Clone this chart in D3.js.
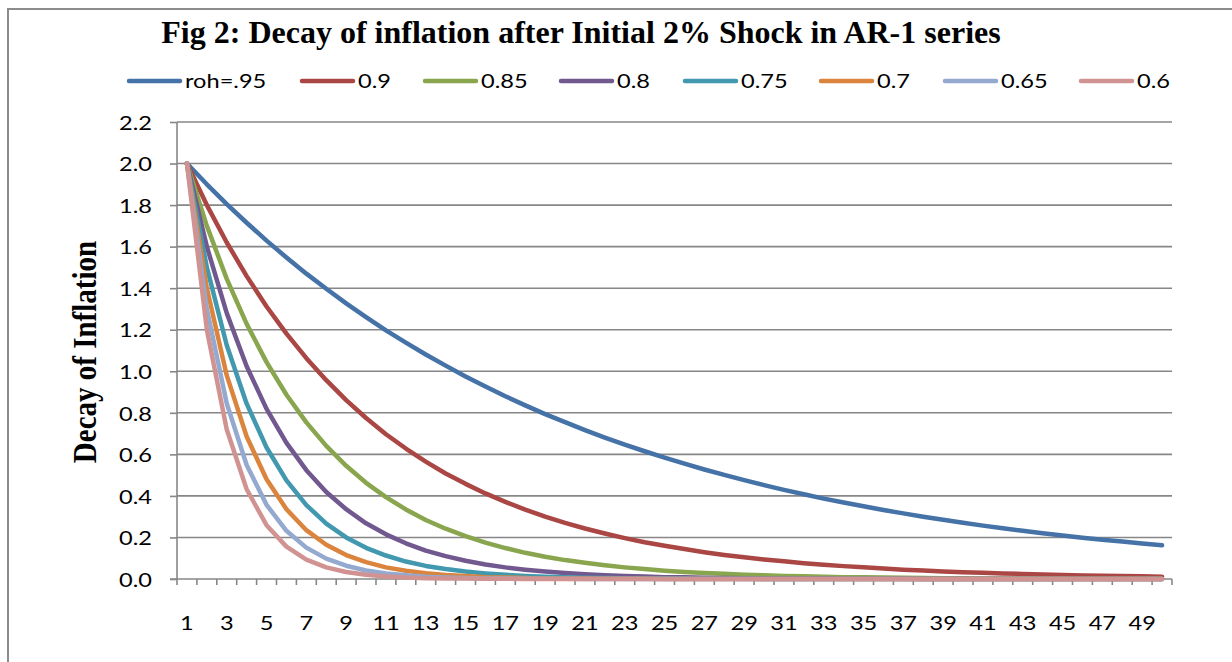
<!DOCTYPE html>
<html>
<head>
<meta charset="utf-8">
<script src="https://cdn.jsdelivr.net/npm/d3@7"></script>
<style>
  body { margin: 0; background: #fff; }
  svg { display: block; }
</style>
</head>
<body>
<svg width="1232" height="662"></svg>
<script>
// periods 1..50
var periods = d3.range(1, 51);

var seriesNames = ["roh=.95", "0.9", "0.85", "0.8", "0.75", "0.7", "0.65", "0.6"];
var seriesColors = ["#4572A7", "#AA4643", "#89A54E", "#71588F", "#4198AF", "#DB843D", "#93A9CF", "#D19392"];

var roh95 = [2.000, 1.900, 1.805, 1.715, 1.629, 1.548, 1.470, 1.397, 1.327, 1.261,
             1.197, 1.138, 1.081, 1.027, 0.975, 0.927, 0.880, 0.836, 0.794, 0.755,
             0.717, 0.681, 0.647, 0.615, 0.584, 0.555, 0.527, 0.501, 0.476, 0.452,
             0.429, 0.408, 0.387, 0.368, 0.350, 0.332, 0.316, 0.300, 0.285, 0.271,
             0.257, 0.244, 0.232, 0.220, 0.209, 0.199, 0.189, 0.180, 0.171, 0.162];
var roh90 = [2.000, 1.800, 1.620, 1.458, 1.312, 1.181, 1.063, 0.957, 0.861, 0.775,
             0.697, 0.628, 0.565, 0.508, 0.458, 0.412, 0.371, 0.334, 0.300, 0.270,
             0.243, 0.219, 0.197, 0.177, 0.160, 0.144, 0.129, 0.116, 0.105, 0.094,
             0.085, 0.076, 0.069, 0.062, 0.056, 0.050, 0.045, 0.041, 0.036, 0.033,
             0.030, 0.027, 0.024, 0.022, 0.019, 0.017, 0.016, 0.014, 0.013, 0.011];
var roh85 = [2.000, 1.700, 1.445, 1.228, 1.044, 0.887, 0.754, 0.641, 0.545, 0.463,
             0.394, 0.335, 0.284, 0.242, 0.206, 0.175, 0.149, 0.126, 0.107, 0.091,
             0.078, 0.066, 0.056, 0.048, 0.040, 0.034, 0.029, 0.025, 0.021, 0.018,
             0.015, 0.013, 0.011, 0.009, 0.008, 0.007, 0.006, 0.005, 0.004, 0.004,
             0.003, 0.003, 0.002, 0.002, 0.002, 0.001, 0.001, 0.001, 0.001, 0.001];
var roh80 = [2.000, 1.600, 1.280, 1.024, 0.819, 0.655, 0.524, 0.419, 0.336, 0.268,
             0.215, 0.172, 0.137, 0.110, 0.088, 0.070, 0.056, 0.045, 0.036, 0.029,
             0.023, 0.018, 0.015, 0.012, 0.009, 0.008, 0.006, 0.005, 0.004, 0.003,
             0.002, 0.002, 0.002, 0.001, 0.001, 0.001, 0.001, 0.000, 0.000, 0.000,
             0.000, 0.000, 0.000, 0.000, 0.000, 0.000, 0.000, 0.000, 0.000, 0.000];
var roh75 = [2.000, 1.500, 1.125, 0.844, 0.633, 0.475, 0.356, 0.267, 0.200, 0.150,
             0.113, 0.084, 0.063, 0.048, 0.036, 0.027, 0.020, 0.015, 0.011, 0.008,
             0.006, 0.005, 0.004, 0.003, 0.002, 0.002, 0.001, 0.001, 0.001, 0.000,
             0.000, 0.000, 0.000, 0.000, 0.000, 0.000, 0.000, 0.000, 0.000, 0.000,
             0.000, 0.000, 0.000, 0.000, 0.000, 0.000, 0.000, 0.000, 0.000, 0.000];
var roh70 = [2.000, 1.400, 0.980, 0.686, 0.480, 0.336, 0.235, 0.165, 0.115, 0.081,
             0.056, 0.040, 0.028, 0.019, 0.014, 0.009, 0.007, 0.005, 0.003, 0.002,
             0.002, 0.001, 0.001, 0.001, 0.000, 0.000, 0.000, 0.000, 0.000, 0.000,
             0.000, 0.000, 0.000, 0.000, 0.000, 0.000, 0.000, 0.000, 0.000, 0.000,
             0.000, 0.000, 0.000, 0.000, 0.000, 0.000, 0.000, 0.000, 0.000, 0.000];
var roh65 = [2.000, 1.300, 0.845, 0.549, 0.357, 0.232, 0.151, 0.098, 0.064, 0.041,
             0.027, 0.018, 0.011, 0.007, 0.005, 0.003, 0.002, 0.001, 0.001, 0.001,
             0.000, 0.000, 0.000, 0.000, 0.000, 0.000, 0.000, 0.000, 0.000, 0.000,
             0.000, 0.000, 0.000, 0.000, 0.000, 0.000, 0.000, 0.000, 0.000, 0.000,
             0.000, 0.000, 0.000, 0.000, 0.000, 0.000, 0.000, 0.000, 0.000, 0.000];
var roh60 = [2.000, 1.200, 0.720, 0.432, 0.259, 0.156, 0.093, 0.056, 0.034, 0.020,
             0.012, 0.007, 0.004, 0.003, 0.002, 0.001, 0.001, 0.000, 0.000, 0.000,
             0.000, 0.000, 0.000, 0.000, 0.000, 0.000, 0.000, 0.000, 0.000, 0.000,
             0.000, 0.000, 0.000, 0.000, 0.000, 0.000, 0.000, 0.000, 0.000, 0.000,
             0.000, 0.000, 0.000, 0.000, 0.000, 0.000, 0.000, 0.000, 0.000, 0.000];

var seriesValues = [roh95, roh90, roh85, roh80, roh75, roh70, roh65, roh60];
var yTicks = [0, 0.2, 0.4, 0.6, 0.8, 1.0, 1.2, 1.4, 1.6, 1.8, 2.0, 2.2];
var xTickLabels = periods.filter(function (d) { return d % 2 == 1; });

var svg = d3.select("svg");
var gridColor = "#878787";
var plot = { left: 177, right: 1172, top: 122, bottom: 579 };
var sansFont = "Lato, 'Open Sans', sans-serif";
var serifFont = "'Liberation Serif', 'Times New Roman', serif";
var stretch = 1.18; // the reference text is a bit wide

// outer chart frame
svg.append("rect").attr("x", 8).attr("y", 9).attr("width", 1240).attr("height", 680)
    .attr("fill", "none").attr("stroke", "#8c8c8c").attr("stroke-width", 2);

svg.append("text")
    .attr("x", 581).attr("y", 43)
    .attr("text-anchor", "middle")
    .style("font-family", serifFont)
    .style("font-weight", "bold").style("font-size", "32px")
    .text("Fig 2: Decay of inflation after Initial 2% Shock in AR-1 series");

var x = d3.scaleBand().domain(periods).range([plot.left, plot.right]);
var y = d3.scaleLinear().domain([0, 2.2]).range([plot.bottom, plot.top]);

// gridlines
svg.append("g").selectAll("line").data(yTicks.slice(1)).enter().append("line")
    .attr("x1", plot.left).attr("x2", plot.right)
    .attr("y1", function (d) { return y(d); }).attr("y2", function (d) { return y(d); })
    .attr("stroke", gridColor).attr("stroke-width", 1.6);

// y axis
var yAxis = d3.axisLeft(y).tickValues(yTicks).tickSize(7)
    .tickFormat(d3.format(".1f"));
var gy = svg.append("g").attr("transform", "translate(" + plot.left + ",0)").call(yAxis);
gy.select(".domain").attr("stroke", gridColor).attr("stroke-width", 1.6)
    .attr("d", "M0," + plot.top + "V" + (plot.bottom + 6));
gy.selectAll(".tick line").attr("stroke", gridColor).attr("stroke-width", 1.6);
gy.selectAll(".tick text").attr("fill", "#000")
    .attr("x", 0).attr("dy", "0.36em")
    .attr("transform", "translate(-25,0) scale(" + stretch + ",1)")
    .style("font-family", sansFont).style("font-size", "20px");

// x axis: ticks at category boundaries, labels every other period
var gx = svg.append("g").attr("transform", "translate(0," + plot.bottom + ")");
gx.append("line").attr("x1", plot.left - 7).attr("x2", plot.right)
    .attr("stroke", gridColor).attr("stroke-width", 1.6);
gx.selectAll(".xt").data(periods).enter().append("line").attr("class", "xt")
    .attr("x1", function (d) { return x(d) + x.bandwidth(); })
    .attr("x2", function (d) { return x(d) + x.bandwidth(); })
    .attr("y1", 0).attr("y2", 6)
    .attr("stroke", gridColor).attr("stroke-width", 1.6);
gx.selectAll(".xl").data(xTickLabels).enter().append("text").attr("class", "xl")
    .attr("transform", function (d) {
        return "translate(" + (x(d) + x.bandwidth() / 2) + ",51) scale(" + stretch + ",1)";
    })
    .attr("text-anchor", "middle")
    .style("font-family", sansFont).style("font-size", "20px")
    .text(function (d) { return d; });

// y label
svg.append("text")
    .attr("transform", "translate(96,352) scale(1.15,1) rotate(-90)")
    .attr("text-anchor", "middle")
    .style("font-family", serifFont)
    .style("font-weight", "bold").style("font-size", "29px")
    .text("Decay of Inflation");

// series lines
var line = d3.line()
    .x(function (d, i) { return x(periods[i]) + x.bandwidth() / 2; })
    .y(function (d) { return y(d); });

svg.append("g").selectAll("path").data(seriesValues).enter().append("path")
    .attr("d", line)
    .attr("fill", "none")
    .attr("stroke", function (d, i) { return seriesColors[i]; })
    .attr("stroke-width", 4.5)
    .attr("stroke-linejoin", "round").attr("stroke-linecap", "round");

// legend
var legendX = [127, 300, 423, 559, 683, 819, 943, 1079];
var leg = svg.append("g").selectAll("g").data(seriesNames).enter().append("g")
    .attr("transform", function (d, i) { return "translate(" + legendX[i] + ",81)"; });
leg.append("line").attr("x1", 2).attr("x2", 53)
    .attr("stroke", function (d, i) { return seriesColors[i]; })
    .attr("stroke-width", 4.5).attr("stroke-linecap", "round");
leg.append("text")
    .attr("transform", "translate(58,0) scale(" + stretch + ",1)")
    .attr("dy", "0.36em")
    .style("font-family", sansFont).style("font-size", "20px")
    .text(function (d) { return d; });
</script>
</body>
</html>
